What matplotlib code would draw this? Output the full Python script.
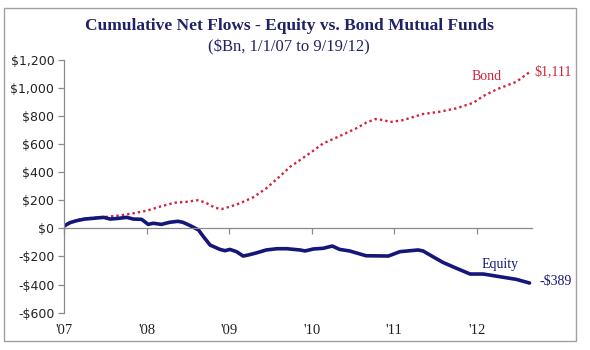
import numpy as np
import matplotlib
matplotlib.use("Agg")
import matplotlib.pyplot as plt
from matplotlib.patches import Rectangle

# years after 1/1/07, cumulative net flows ($Bn)
equity_t = [0.0, 0.07, 0.15, 0.25, 0.35, 0.48, 0.56, 0.66, 0.76, 0.84, 0.94,
            1.02, 1.08, 1.18, 1.28, 1.38, 1.44, 1.53, 1.63, 1.69, 1.77, 1.89,
            1.95, 2.01, 2.09, 2.17, 2.23, 2.33, 2.45, 2.58, 2.70, 2.86, 2.92,
            3.02, 3.14, 3.25, 3.34, 3.46, 3.66, 3.93, 4.07, 4.29, 4.35, 4.47,
            4.59, 4.71, 4.92, 5.08, 5.28, 5.48, 5.64]
equity_v = [16, 40, 54, 66, 71, 78, 66, 71, 78, 66, 64,
            28, 36, 28, 43, 50, 43, 19, -12, -60, -119, -150,
            -159, -150, -166, -197, -190, -175, -154, -145, -145, -154, -161,
            -147, -142, -126, -150, -161, -195, -197, -166, -154, -161, -202,
            -242, -273, -325, -325, -344, -363, -389]

bond_t = [0.0, 0.09, 0.19, 0.35, 0.52, 0.68, 0.84, 1.00, 1.16, 1.34, 1.49,
          1.63, 1.73, 1.83, 1.91, 2.01, 2.13, 2.29, 2.45, 2.61, 2.74, 2.86,
          3.02, 3.14, 3.34, 3.54, 3.66, 3.77, 3.87, 3.95, 4.11, 4.35, 4.55,
          4.75, 4.96, 5.08, 5.24, 5.48, 5.64]
bond_v = [11, 43, 64, 75, 82, 92, 107, 125, 154, 182, 189,
          201, 178, 146, 137, 154, 178, 220, 284, 367, 438, 486,
          552, 604, 656, 711, 751, 777, 770, 756, 770, 813, 829,
          853, 893, 941, 988, 1042, 1111]

year_ticks = [2007, 2008, 2009, 2010, 2011, 2012]
year_labels = ["'07", "'08", "'09", "'10", "'11", "'12"]
y_ticks = [-600, -400, -200, 0, 200, 400, 600, 800, 1000, 1200]

navy = "#14167a"
red = "#d0243c"
grey = "#8a8a8a"

eq_x = 2007 + np.array(equity_t)
bd_x = 2007 + np.array(bond_t)

fig = plt.figure(figsize=(5.9, 3.5), dpi=100)
ax = fig.add_axes([0.1085, 0.1066, 0.9017 - 0.1085, 0.8297 - 0.1066])

ax.plot(bd_x, bond_v, color=red, lw=1.7, linestyle=(0, (1, 1.3)))
ax.plot(eq_x, equity_v, color=navy, lw=2.6, solid_capstyle="round")

ax.set_xlim(2007, 2012.67)
ax.set_ylim(-600, 1200)

for s in ["top", "right"]:
    ax.spines[s].set_visible(False)
ax.spines["bottom"].set_position(("data", 0))
ax.spines["left"].set_color(grey)
ax.spines["bottom"].set_color(grey)
ax.spines["left"].set_linewidth(0.9)
ax.spines["bottom"].set_linewidth(0.9)

ax.set_yticks(y_ticks)
ax.set_yticklabels(["$0" if v == 0 else ("-$" if v < 0 else "$") + f"{abs(v):,}" for v in y_ticks],
                   fontsize=9, color="#222222", family="DejaVu Sans")
ax.tick_params(axis="y", length=4, width=0.9, color=grey, pad=3)

ax.set_xticks(year_ticks)
ax.set_xticklabels([])
ax.tick_params(axis="x", length=4, width=0.9, color=grey, direction="out")

sec = ax.secondary_xaxis("bottom")
sec.set_xticks(year_ticks)
sec.set_xticklabels(year_labels, fontsize=10.5, family="Liberation Serif", color="#222222")
sec.tick_params(length=0, pad=8)
sec.spines["bottom"].set_visible(False)

ax.text(2012.70, bond_v[-1], "$1,111", color=red, fontsize=10,
        family="Liberation Serif", va="center", ha="left", clip_on=False)
ax.text(2012.12, 1083, "Bond", color=red, fontsize=10,
        family="Liberation Serif", va="center", ha="center")
ax.text(2012.76, equity_v[-1] + 10, "-$389", color=navy, fontsize=10,
        family="Liberation Serif", va="center", ha="left", clip_on=False)
ax.text(2012.28, -254, "Equity", color=navy, fontsize=10,
        family="Liberation Serif", va="center", ha="center")

fig.text(0.49, 1 - 26 / 350, "Cumulative Net Flows - Equity vs. Bond Mutual Funds",
         ha="center", va="center", fontsize=12.5, fontweight="bold",
         family="Liberation Serif", color="#1f2266")
fig.text(0.49, 1 - 47 / 350, "($Bn, 1/1/07 to 9/19/12)",
         ha="center", va="center", fontsize=12,
         family="Liberation Serif", color="#1f2266")

fig.add_artist(Rectangle((4 / 590, 9 / 350), 572 / 590, 333 / 350,
                         transform=fig.transFigure, fill=False,
                         edgecolor="#a0a0a0", lw=1.0))

fig.savefig("out.png", dpi=100)
